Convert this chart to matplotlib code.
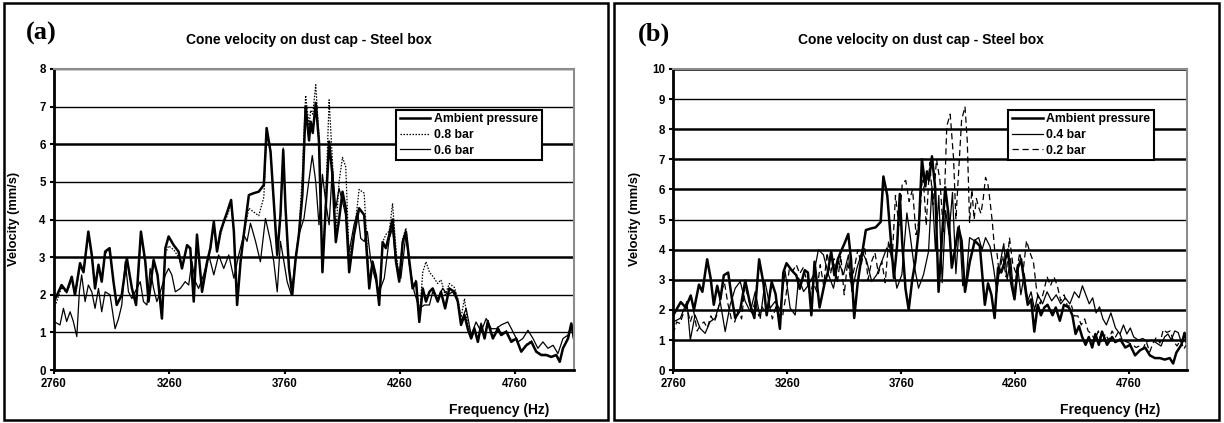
import matplotlib
matplotlib.use("Agg")
import matplotlib.pyplot as plt
from matplotlib.patches import Rectangle

plt.rcParams['font.family'] = ['Liberation Sans', 'DejaVu Sans']
plt.rcParams['font.weight'] = 'bold'

# ---- data (frequency in Hz, velocity in mm/s) ----
f_amb = [2760, 2793, 2815, 2837, 2851, 2873, 2888, 2909, 2924, 2938, 2953, 2967, 2982, 3001,
         3018, 3032, 3054, 3076, 3098, 3116, 3137, 3156, 3170, 3192, 3209, 3228, 3243, 3257,
         3279, 3300, 3315, 3337, 3351, 3366, 3380, 3402, 3424, 3438, 3453, 3467, 3482, 3496,
         3511, 3528, 3540, 3554, 3569, 3583, 3605, 3626, 3648, 3670, 3682, 3699, 3713, 3728,
         3742, 3754, 3764, 3779, 3793, 3808, 3822, 3837, 3851, 3866, 3873, 3882, 3895, 3909,
         3924, 3938, 3953, 3967, 3982, 3996, 4011, 4025, 4040, 4061, 4083, 4105, 4127, 4141,
         4156, 4170, 4185, 4199, 4214, 4228, 4243, 4257, 4272, 4286, 4301, 4315, 4330, 4344,
         4359, 4373, 4388, 4402, 4424, 4438, 4456, 4474, 4496, 4511, 4525, 4540, 4554, 4569,
         4583, 4598, 4612, 4627, 4641, 4663, 4685, 4699, 4721, 4743, 4764, 4786, 4808, 4830,
         4851, 4873, 4895, 4916, 4938, 4953, 4967, 4989, 5003, 5015]
v_amb = [1.82, 2.26, 2.08, 2.48, 2.0, 2.84, 2.6, 3.68, 3.06, 2.17, 2.8, 2.35, 3.15, 3.24,
         2.35, 1.73, 2.0, 2.97, 2.17, 1.73, 3.68, 2.88, 1.82, 2.93, 2.53, 1.37, 3.24, 3.55,
         3.32, 3.15, 2.7, 3.32, 3.24, 1.82, 3.6, 2.08, 2.88, 3.24, 3.94, 3.15, 3.68, 3.94,
         4.2, 4.52, 3.68, 1.73, 2.88, 3.6, 4.65, 4.7, 4.74, 4.92, 6.43, 5.8, 4.48, 3.06,
         4.12, 5.85, 4.3, 2.7, 2.0, 2.97, 3.6, 4.65, 7.0, 6.1, 6.6, 6.3, 7.1, 6.07,
         2.6, 4.3, 6.07, 5.2, 3.4, 4.0, 4.74, 4.3, 2.6, 3.6, 4.3, 4.12, 2.17, 2.88,
         2.5, 1.73, 3.4, 3.24, 3.6, 4.0, 2.88, 2.35, 3.4, 3.68, 2.88, 2.17, 2.35, 1.28,
         2.17, 1.82, 2.08, 2.17, 1.82, 2.08, 1.64, 2.17, 2.08, 1.82, 1.2, 1.46, 1.1, 0.84,
         1.1, 0.75, 1.2, 0.84, 1.28, 0.84, 1.1, 0.93, 1.02, 0.75, 0.84, 0.49, 0.66, 0.75,
         0.49, 0.4, 0.4, 0.35, 0.4, 0.22, 0.58, 0.84, 1.24, 0.84]

f_08 = f_amb
v_08 = [1.62, 2.2, 2.05, 2.4, 2.0, 2.75, 2.6, 3.6, 3.0, 2.2, 2.75, 2.35, 3.1, 3.2,
        2.35, 1.75, 2.0, 2.9, 2.17, 1.75, 3.6, 2.85, 1.85, 2.9, 2.5, 1.4, 3.1, 3.3,
        3.2, 3.0, 2.7, 3.3, 3.2, 1.85, 3.5, 2.1, 2.8, 3.2, 3.8, 3.2, 3.6, 3.9,
        4.1, 4.4, 3.7, 1.8, 2.9, 3.6, 4.3, 4.2, 4.1, 4.6, 6.3, 5.8, 4.5, 3.1,
        4.1, 5.9, 4.3, 2.7, 2.1, 3.0, 3.7, 5.2, 7.3, 6.5, 6.9, 6.8, 7.58, 6.2,
        2.8, 4.5, 7.18, 5.6, 3.6, 5.0, 5.65, 5.4, 3.0, 3.6, 4.8, 4.7, 2.3, 2.9,
        2.5, 1.8, 3.4, 3.6, 3.7, 4.43, 3.2, 2.4, 3.5, 3.77, 2.9, 2.2, 2.4, 1.4,
        2.6, 2.88, 2.6, 2.5, 2.3, 2.4, 2.0, 2.3, 2.2, 1.9, 1.4, 1.9, 1.2, 0.9,
        1.15, 0.8, 1.25, 0.9, 1.35, 0.85, 1.15, 0.95, 1.05, 0.8, 0.85, 0.5, 0.68, 0.78,
        0.5, 0.42, 0.42, 0.36, 0.42, 0.25, 0.6, 0.86, 1.2, 0.86]

f_06 = [2760, 2786, 2801, 2815, 2830, 2844, 2859, 2870, 2880, 2895, 2909, 2924, 2938, 2953,
        2967, 2982, 3003, 3025, 3040, 3054, 3069, 3083, 3098, 3119, 3134, 3148, 3163, 3177,
        3192, 3206, 3221, 3243, 3257, 3271, 3286, 3308, 3329, 3344, 3358, 3373, 3387, 3409,
        3431, 3453, 3474, 3496, 3518, 3540, 3561, 3583, 3597, 3612, 3634, 3655, 3677, 3699,
        3713, 3728, 3742, 3757, 3771, 3789, 3808, 3822, 3844, 3859, 3880, 3895, 3909, 3924,
        3938, 3953, 3967, 3982, 3996, 4011, 4025, 4040, 4061, 4076, 4090, 4105, 4119, 4134,
        4148, 4170, 4192, 4214, 4228, 4243, 4264, 4286, 4301, 4322, 4344, 4366, 4388, 4402,
        4424, 4445, 4467, 4489, 4511, 4525, 4547, 4569, 4590, 4612, 4634, 4656, 4677, 4699,
        4728, 4750, 4772, 4793, 4815, 4837, 4858, 4880, 4902, 4924, 4945, 4967, 4989, 5003,
        5015]
v_06 = [1.29, 1.2, 1.64, 1.29, 1.55, 1.29, 0.89, 2.08, 2.53, 1.82, 2.26, 2.08, 1.64, 2.17,
        1.55, 2.08, 2.0, 1.1, 1.37, 1.73, 2.88, 2.08, 1.9, 2.17, 2.35, 1.82, 1.73, 2.7,
        2.17, 1.82, 2.08, 2.53, 2.7, 2.53, 2.08, 2.17, 2.35, 2.26, 2.88, 2.35, 2.17, 2.53,
        3.06, 2.53, 3.06, 2.7, 3.06, 2.44, 3.06, 3.6, 3.42, 3.9, 3.42, 2.88, 4.03, 3.42,
        2.88, 2.08, 3.42, 2.88, 2.35, 2.0, 2.97, 3.6, 4.03, 4.74, 5.7, 5.0, 3.86, 5.2,
        4.48, 3.86, 5.36, 4.3, 4.83, 4.48, 4.12, 3.15, 3.86, 4.21, 3.5, 3.42, 3.68, 2.88,
        2.53, 2.08, 2.44, 3.5, 3.77, 2.88, 2.44, 3.6, 2.8, 2.08, 1.64, 1.73, 1.73, 2.08,
        1.9, 2.17, 2.0, 2.08, 1.82, 1.28, 1.64, 0.93, 1.28, 1.02, 1.37, 1.1, 1.1, 1.2,
        1.28, 1.02, 0.75, 0.84, 1.06, 0.84, 0.58, 0.75, 0.58, 0.66, 0.44, 0.84, 0.93, 1.2,
        0.75]

f_04 = [2760, 2791, 2820, 2835, 2856, 2878, 2900, 2922, 2944, 2966, 2988, 3010, 3032, 3054,
        3076, 3098, 3120, 3142, 3163, 3185, 3207, 3229, 3251, 3273, 3295, 3310, 3332, 3354,
        3376, 3397, 3419, 3441, 3463, 3485, 3507, 3529, 3544, 3566, 3588, 3609, 3631, 3653,
        3675, 3697, 3719, 3741, 3763, 3785, 3799, 3814, 3836, 3858, 3880, 3895, 3910, 3925,
        3940, 3955, 3970, 3985, 4000, 4015, 4030, 4045, 4060, 4080, 4100, 4115, 4130, 4150,
        4165, 4180, 4195, 4210, 4225, 4240, 4255, 4270, 4285, 4300, 4315, 4330, 4345, 4360,
        4380, 4400, 4420, 4440, 4460, 4480, 4500, 4520, 4540, 4555, 4570, 4585, 4600, 4615,
        4630, 4645, 4660, 4680, 4700, 4720, 4735, 4750, 4765, 4780, 4800, 4820, 4840, 4860,
        4880, 4900, 4915, 4930, 4945, 4960, 4975, 4990, 5005, 5015]
v_04 = [1.6, 1.72, 2.28, 1.0, 1.83, 1.39, 1.22, 1.61, 1.72, 2.28, 1.28, 2.17, 2.72, 2.94,
        2.28, 1.94, 2.61, 1.72, 2.94, 2.06, 2.28, 2.0, 3.28, 2.06, 1.83, 3.06, 2.61, 2.83,
        3.17, 4.0, 3.83, 3.17, 2.72, 3.61, 3.17, 3.83, 2.61, 3.39, 3.94, 3.61, 2.94, 3.17,
        3.61, 4.06, 3.83, 2.72, 3.17, 5.22, 4.5, 3.61, 2.72, 3.17, 3.94, 6.1, 4.0, 5.8,
        2.9, 5.3, 4.5, 5.9, 3.2, 4.8, 2.8, 3.0, 4.4, 4.3, 4.4, 4.0, 4.4, 4.1,
        3.4, 2.6, 3.6, 4.2, 3.0, 3.7, 2.4, 3.5, 2.5, 3.2, 2.3, 2.6, 2.0, 2.5,
        2.2, 2.6, 2.3, 2.5, 2.2, 2.4, 2.2, 2.6, 2.4, 2.8, 2.5, 2.2, 2.4, 1.9,
        2.1, 1.7, 1.5, 1.9, 1.4, 1.2, 1.5, 1.2, 1.4, 1.1, 1.0, 1.05, 0.95, 1.0,
        0.9, 0.8, 1.1, 1.2, 1.0, 1.3, 1.25, 0.9, 1.0, 0.85]

f_02 = [2760, 2775, 2790, 2805, 2820, 2835, 2850, 2865, 2880, 2895, 2910, 2925, 2940, 2955,
        2970, 2985, 3000, 3015, 3030, 3045, 3060, 3075, 3090, 3105, 3120, 3135, 3150, 3165,
        3180, 3195, 3210, 3225, 3240, 3255, 3270, 3285, 3300, 3315, 3330, 3345, 3360, 3375,
        3390, 3405, 3420, 3435, 3450, 3465, 3480, 3495, 3510, 3525, 3540, 3555, 3570, 3585,
        3600, 3615, 3630, 3645, 3660, 3675, 3690, 3705, 3720, 3735, 3750, 3765, 3780, 3795,
        3810, 3825, 3840, 3855, 3870, 3885, 3900, 3915, 3930, 3945, 3960, 3975, 3990, 4000,
        4010, 4025, 4040, 4050, 4060, 4070, 4080, 4090, 4100, 4110, 4120, 4130, 4140, 4150,
        4160, 4170, 4180, 4190, 4205, 4220, 4235, 4250, 4265, 4280, 4295, 4310, 4325, 4340,
        4355, 4370, 4385, 4400, 4415, 4430, 4445, 4460, 4475, 4490, 4505, 4520, 4535, 4550,
        4565, 4580, 4595, 4610, 4625, 4640, 4655, 4670, 4685, 4700, 4715, 4730, 4745, 4760,
        4775, 4790, 4805, 4820, 4835, 4850, 4865, 4880, 4895, 4910, 4925, 4940, 4955, 4970,
        4985, 5000, 5015]
v_02 = [1.2, 1.6, 1.55, 1.9, 2.1, 1.6, 1.95, 1.3, 1.5, 1.6, 1.4, 1.8, 1.6, 1.9,
        2.6, 2.9, 2.2, 1.7, 1.6, 2.0, 1.7, 2.8, 2.4, 1.9, 2.3, 1.8, 2.1, 1.9,
        2.2, 1.7, 2.1, 1.8, 1.8, 2.5, 3.4, 3.3, 3.5, 3.2, 3.4, 3.0, 2.5, 2.9,
        2.6, 3.5, 2.8, 3.9, 3.2, 3.7, 2.9, 3.8, 2.5, 3.6, 2.9, 3.4, 4.0, 3.5,
        4.1, 3.0, 3.6, 3.9, 3.2, 3.6, 2.9, 4.3, 3.6, 5.8, 4.8, 6.2, 6.3, 5.6,
        6.0, 4.5, 5.0, 6.6, 4.8, 6.9, 5.5, 7.0, 6.3, 4.6, 8.1, 8.5, 7.0, 5.0,
        6.3, 8.3, 8.75, 7.6, 4.9, 6.0, 5.0, 5.7, 5.4, 5.2, 5.7, 6.4, 6.2, 5.6,
        4.9, 4.0, 3.9, 3.2, 3.8, 3.1, 4.4, 3.5, 3.2, 3.9, 3.3, 4.3, 3.9, 3.6,
        2.6, 2.2, 2.6, 3.1, 2.8, 3.1, 2.8, 2.3, 2.5, 2.1, 2.2, 1.8, 1.8, 1.5,
        1.7, 1.3, 1.2, 1.0, 1.3, 0.9, 1.2, 1.0, 1.3, 1.1, 1.3, 1.0, 0.95, 0.9,
        0.85, 0.75, 0.8, 0.7, 0.95, 0.6, 0.9, 1.1, 0.9, 1.35, 1.25, 1.3, 0.95, 0.8,
        1.0, 0.7, 0.9]

x_ticks = [2760, 3260, 3760, 4260, 4760]
title = "Cone velocity on dust cap - Steel box"

fig = plt.figure(figsize=(12.24, 4.23), dpi=100)

# panel frames
for x0 in (0.003, 0.502):
    fig.add_artist(Rectangle((x0, 0.008), 0.494, 0.984, transform=fig.transFigure,
                             fill=False, edgecolor='black', linewidth=1.8))

ax_a = fig.add_axes([0.0441, 0.125, 0.4249, 0.712])
ax_b = fig.add_axes([0.550, 0.125, 0.420, 0.712])

ax_a.plot(f_amb, v_amb, color='black', lw=1.8, label='Ambient pressure')
ax_a.plot(f_08, v_08, color='black', lw=0.9, ls=(0, (1.2, 1.2)), label='0.8 bar')
ax_a.plot(f_06, v_06, color='black', lw=0.9, label='0.6 bar')

ax_b.plot(f_amb, v_amb, color='black', lw=1.8, label='Ambient pressure')
ax_b.plot(f_04, v_04, color='black', lw=0.9, label='0.4 bar')
ax_b.plot(f_02, v_02, color='black', lw=0.9, ls=(0, (5, 3)), label='0.2 bar')

for ax, ymax, lab, lx, legx in ((ax_a, 8, '(a)', 0.021, 0.658), (ax_b, 10, '(b)', 0.521, 0.652)):
    ax.set_xlim(2760, 5015)
    ax.set_ylim(0, ymax)
    ax.set_xticks(x_ticks)
    ax.set_yticks(range(0, ymax + 1))
    ax.yaxis.grid(True, color='black', lw=1.0)
    ax.set_axisbelow(True)
    for s in ('left', 'bottom'):
        ax.spines[s].set_linewidth(2.0)
        ax.spines[s].set_color('black')
    for s in ('top', 'right'):
        ax.spines[s].set_linewidth(1.5)
        ax.spines[s].set_color('#8c8c8c')
    ax.tick_params(direction='out', length=3, width=1.5, labelsize=8.3, pad=3)
    for t in ax.get_xticklabels() + ax.get_yticklabels():
        t.set_fontweight('bold')
    leg = ax.legend(loc='upper left', bbox_to_anchor=(legx, 0.865), frameon=True,
                    fancybox=False, edgecolor='black', framealpha=1, fontsize=8.8,
                    handlelength=2.5, handletextpad=0.3, borderpad=0.3, labelspacing=0.3,
                    borderaxespad=0)
    leg.get_frame().set_linewidth(1.5)
    for t in leg.get_texts():
        t.set_fontweight('bold')
    fig.text(lx, 0.920, lab, family=['Liberation Serif'], fontsize=19, fontweight='bold',
             ha='left', va='center')

# thicker-looking gridlines as in the scan
for i in (3, 6):
    ax_a.get_ygridlines()[i].set_linewidth(1.8)
for g in ax_b.get_ygridlines():
    g.set_linewidth(1.8)
ax_b.get_ygridlines()[9].set_linewidth(1.0)
ax_b.get_ygridlines()[5].set_linewidth(1.0)

for cx in (0.252, 0.752):
    fig.text(cx, 0.905, title, fontsize=10, fontweight='bold', ha='center', va='center')
for rx in (0.4485, 0.948):
    fig.text(rx, 0.031, 'Frequency (Hz)', fontsize=10, fontweight='bold', ha='right', va='center')
for yx in (0.0114, 0.519):
    fig.text(yx, 0.482, 'Velocity (mm/s)', fontsize=9.3, fontweight='bold', rotation=90,
             ha='center', va='center')

fig.savefig('out.png', dpi=100)
